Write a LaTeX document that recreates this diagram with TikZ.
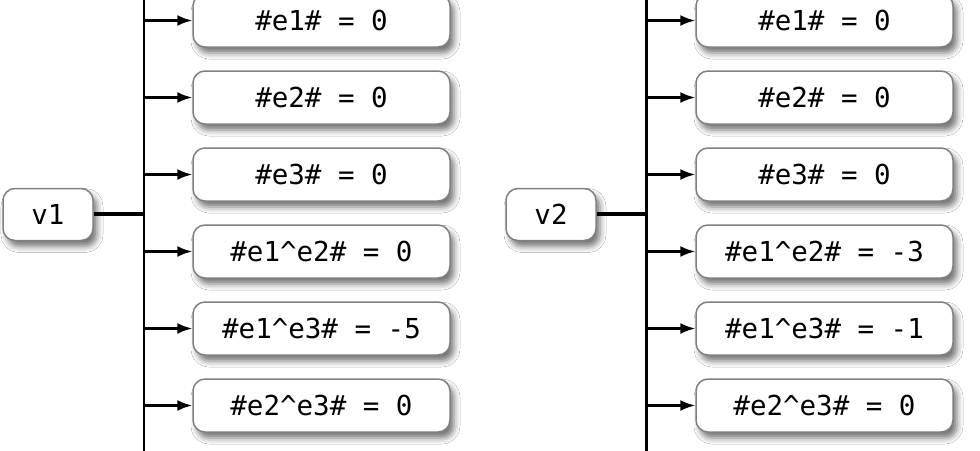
\documentclass[tikz,border=0pt]{standalone}
\usepackage{fontspec}
\newfontfamily\monofont{DejaVu Sans Mono}
\usetikzlibrary{arrows.meta,shadows.blur}
\begin{document}
\begin{tikzpicture}[x=1pt,y=-1pt,
  box/.style={draw=black!50, line width=1.5pt, fill=white, rounded corners=12pt,
    inner sep=0pt, text=black, font=\monofont\fontsize{27.5}{30}\selectfont,
    blur shadow={shadow xshift=4pt, shadow yshift=-6pt, shadow blur radius=6pt, shadow opacity=55}},
  vbox/.style={box, minimum width=90pt, minimum height=52pt},
  valbox/.style={box, minimum width=257pt, minimum height=53pt},
  bus/.style={line width=2.8pt},
  feed/.style={line width=4.5pt},
  arr/.style={line width=2.2pt, -{Latex[length=15pt,width=11pt]}}]
\useasboundingbox (0,0) rectangle (980,450);
\clip (0,0) rectangle (980,450);
\fill[white] (0,0) rectangle (980,450);
% left panel
\coordinate (b1top) at (144,-30);
\coordinate (b1bot) at (144,480);
\coordinate (b1mid) at (144,214);
\draw[bus] (b1top) -- (b1bot);
\node[vbox] (v1) at (48,214.5) {v1};
\draw[feed] (v1.east |- b1mid) -- (b1mid);
\node[valbox] (a1) at (321.5,20.5) {\#e1\# = 0};
\node[valbox] (a2) at (321.5,97.5) {\#e2\# = 0};
\node[valbox] (a3) at (321.5,174.5) {\#e3\# = 0};
\node[valbox] (a4) at (321.5,251.5) {\#e1\textasciicircum e2\# = 0};
\node[valbox] (a5) at (321.5,328.5) {\#e1\textasciicircum e3\# = -5};
\node[valbox] (a6) at (321.5,405.5) {\#e2\textasciicircum e3\# = 0};
\foreach \n in {a1,a2,a3,a4,a5,a6}{\draw[arr] (b1top |- \n.west) -- (\n.west);}
% right panel
\coordinate (b2top) at (646.5,-30);
\coordinate (b2bot) at (646.5,480);
\coordinate (b2mid) at (646.5,214);
\draw[bus] (b2top) -- (b2bot);
\node[vbox] (v2) at (551,214.5) {v2};
\draw[feed] (v2.east |- b2mid) -- (b2mid);
\node[valbox] (c1) at (824.5,20.5) {\#e1\# = 0};
\node[valbox] (c2) at (824.5,97.5) {\#e2\# = 0};
\node[valbox] (c3) at (824.5,174.5) {\#e3\# = 0};
\node[valbox] (c4) at (824.5,251.5) {\#e1\textasciicircum e2\# = -3};
\node[valbox] (c5) at (824.5,328.5) {\#e1\textasciicircum e3\# = -1};
\node[valbox] (c6) at (824.5,405.5) {\#e2\textasciicircum e3\# = 0};
\foreach \n in {c1,c2,c3,c4,c5,c6}{\draw[arr] (b2top |- \n.west) -- (\n.west);}
\end{tikzpicture}
\end{document}
